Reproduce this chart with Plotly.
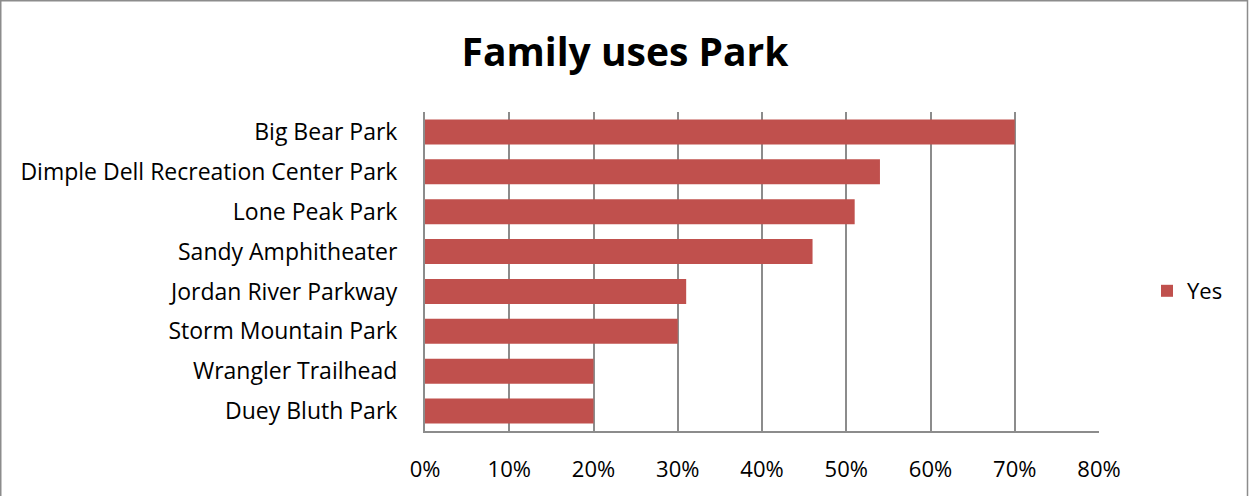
import plotly.graph_objects as go

parks = ["Big Bear Park", "Dimple Dell Recreation Center Park", "Lone Peak Park",
         "Sandy Amphitheater", "Jordan River Parkway", "Storm Mountain Park",
         "Wrangler Trailhead", "Duey Bluth Park"]
yes_values = [0.70, 0.54, 0.51, 0.46, 0.31, 0.30, 0.20, 0.20]
tick_vals = [0, 0.1, 0.2, 0.3, 0.4, 0.5, 0.6, 0.7, 0.8]
tick_text = ["0%", "10%", "20%", "30%", "40%", "50%", "60%", "70%", "80%"]

W, H = 1249, 496
ml, mr, mt, mb = 425, 150, 112, 65
pw, ph = W - ml - mr, H - mt - mb
plot_bottom = H - mb


def px_x(p):
    return (p - ml) / pw


def px_y(p):
    return (plot_bottom - p) / ph


fig = go.Figure(go.Bar(
    y=parks, x=yes_values, orientation="h", name="Yes",
    marker=dict(color="#C0504D", line=dict(width=0)),
))

font = "Open Sans, Noto Sans, sans-serif"
fig.update_layout(
    width=W, height=H,
    margin=dict(l=ml, r=mr, t=mt, b=mb, autoexpand=False),
    paper_bgcolor="white", plot_bgcolor="white",
    bargap=0.37,
    showlegend=True,
    title=dict(text="<b>Family uses Park</b>", x=625 / W, xanchor="center",
               y=1 - 52 / H, yanchor="middle", yref="container",
               font=dict(family=font, size=39, color="black")),
    legend=dict(x=px_x(1147), xanchor="left", y=px_y(291), yanchor="middle",
                font=dict(family=font, size=22, color="black"),
                itemwidth=30, bgcolor="rgba(0,0,0,0)"),
    xaxis=dict(range=[0, 0.8], tickvals=tick_vals, ticktext=tick_text,
               showgrid=True, gridcolor="#8C8C8C", gridwidth=2,
               showline=True, linecolor="#8C8C8C", linewidth=2,
               zeroline=False, ticks="", ticklen=0,
               tickfont=dict(family=font, size=22, color="black"),
               ticklabelstandoff=18),
    yaxis=dict(categoryorder="array", categoryarray=parks[::-1],
               showline=True, linecolor="#8C8C8C", linewidth=2,
               showgrid=False, ticks="", ticklabelstandoff=21,
               tickfont=dict(family=font, size=23, color="black")),
    shapes=[dict(type="rect", xref="paper", yref="paper",
                 x0=px_x(0.75), x1=px_x(1247.5),
                 y0=px_y(500), y1=px_y(0.75),
                 line=dict(color="#8C8C8C", width=1.5), fillcolor="rgba(0,0,0,0)")],
)

fig.write_html("out.html", config={"displayModeBar": False},
               post_script="document.body.style.margin='0px';document.body.style.padding='0px';")
